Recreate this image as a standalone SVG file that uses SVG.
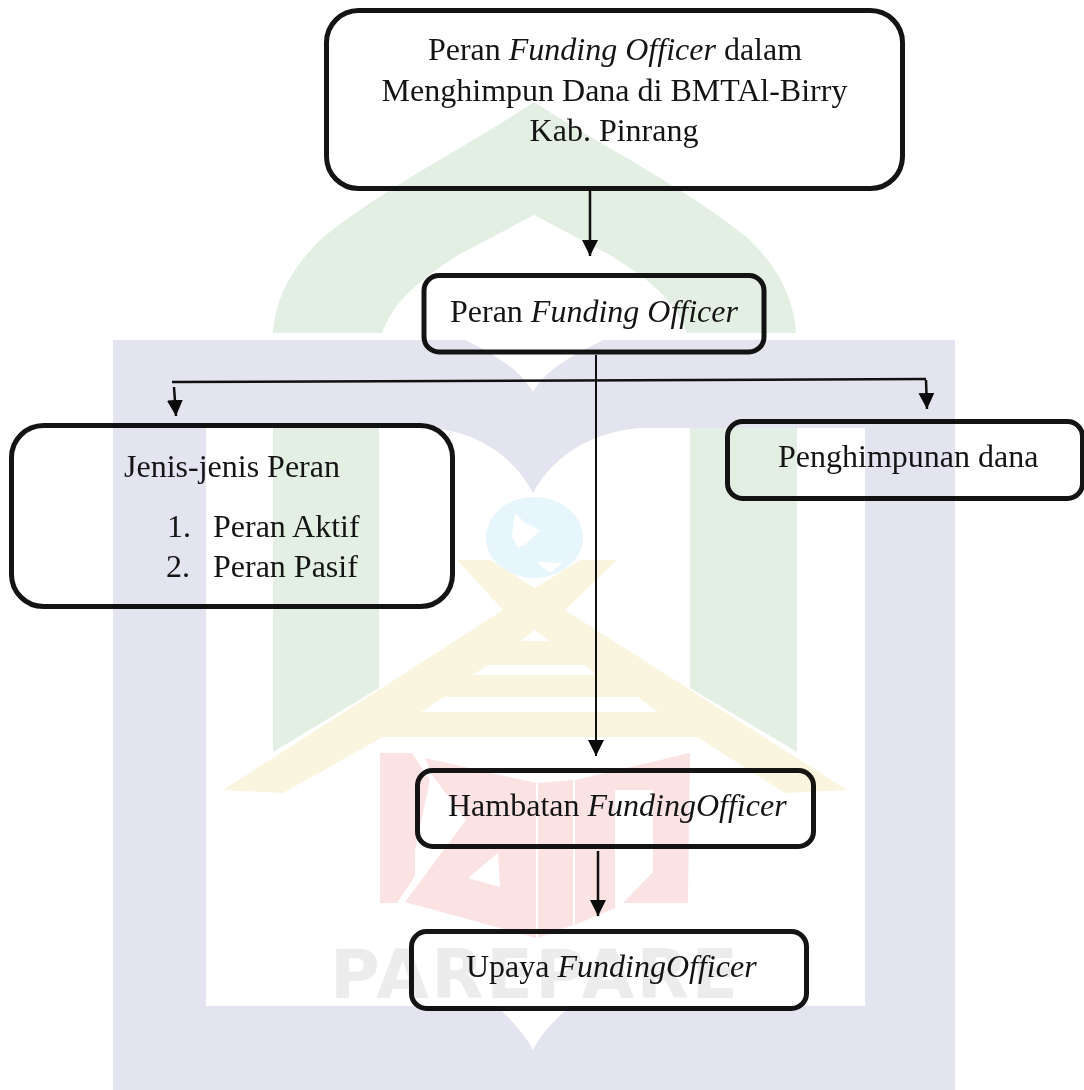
<svg xmlns="http://www.w3.org/2000/svg" width="1084" height="1090" viewBox="0 0 1084 1090">
<style>
.box{fill:none;stroke:#141414;stroke-width:5;mix-blend-mode:multiply}
.line{fill:none;stroke:#111;stroke-width:2.5;mix-blend-mode:multiply}
text{font-family:"Liberation Serif","Times New Roman",serif;font-size:32px;fill:#141414}
.c{text-anchor:middle}
.i{font-style:italic}
.wm{font-family:"DejaVu Sans",Verdana,sans-serif;font-weight:700;font-size:68px;fill:#ececec}
</style>
<defs>
<marker id="arrow" markerUnits="userSpaceOnUse" markerWidth="16" markerHeight="16" refX="16" refY="8" orient="auto"><path d="M0 0L16 8L0 16Z" fill="#0c0c0c"/></marker>
</defs>
<rect width="1084" height="1090" fill="#fff"/>
<g id="watermark">
<rect x="113" y="340" width="842" height="750" fill="#e3e4ef"/>
<path fill="#fff" d="M206 428L430 428C470 431 510 450 533 493C556 450 600 431 640 428L865 428L865 1006L570 1006C555 1020 540 1035 533 1050C526 1035 511 1020 497 1006L206 1006Z"/>
<path fill="#fff" d="M466 340C490 353 520 368 533 392C546 368 578 353 603 340Z"/>
<path fill="#e3efe2" d="M273 333C275 300 290 270 320 240C380 190 470 145 534 102C600 145 690 190 750 240C780 270 794 300 796 333L687 333C675 300 650 280 610 255L534 215L458 255C420 280 394 300 382 333Z"/>
<path fill="#e3efe2" d="M273 428H379V688L273 752Z"/>
<path fill="#e3efe2" d="M690 428H797V752L690 688Z"/>
<path fill="#e6f6fc" fill-rule="evenodd" d="M534 497C562 497 583 516 583 538C583 560 560 578 534 578C508 578 486 560 486 538C486 516 506 497 534 497ZM515 513L512 537L518 548L527 543L540 530L525 523ZM537 562L550 573L563 563Z"/>
<path fill="#f9f5df" fill-rule="evenodd" d="M457 560H490L535 588L580 560H617L565 610L847 790L785 793L697 737H383L283 793L223 790L503 610ZM520 641H550L535 630ZM472 675H596L585 665H489ZM421 712H658L638 697H444Z"/>
<g fill="#fbe3e3">
<path d="M380 753H412L430 780L415 850V876L397 903H380Z"/>
<path fill-rule="evenodd" d="M425 758L536 783V938L405 902L466 820L432 775ZM468 878L500 887L498 853Z"/>
<path d="M538 783L573 780V925L538 938Z"/>
<path d="M575 780L690 753L688 903H623L653 872V790H615V908L575 925Z"/>
</g>
<text class="wm" x="330" y="998" textLength="408" lengthAdjust="spacing">PAREPARE</text>
</g>
<g id="connectors">
<path class="line" d="M590 190V256" marker-end="url(#arrow)"/>
<path class="line" style="stroke-width:2" d="M596 355V756" marker-end="url(#arrow)"/>
<path class="line" d="M172 382L926 379"/>
<path class="line" d="M174 387L176 416" marker-end="url(#arrow)"/>
<path class="line" d="M926 380L927 409" marker-end="url(#arrow)"/>
<path class="line" d="M598 851V916" marker-end="url(#arrow)"/>
</g>
<g id="node-judul">
<rect class="box" x="326.5" y="10.5" width="576" height="178" rx="32"/>
<text class="c" x="615" y="60">Peran <tspan class="i">Funding Officer</tspan> dalam</text>
<text class="c" x="614.5" y="100.5">Menghimpun Dana di BMTAl-Birry</text>
<text class="c" x="614" y="140.5">Kab. Pinrang</text>
</g>
<g id="node-peran">
<rect class="box" x="424" y="275.5" width="340" height="76.5" rx="15"/>
<text x="450" y="322">Peran <tspan class="i">Funding Officer</tspan></text>
</g>
<g id="node-jenis">
<rect class="box" x="11.5" y="425.5" width="441" height="181" rx="32"/>
<text x="124" y="477">Jenis-jenis Peran</text>
<text x="167" y="537">1.</text>
<text x="213" y="537">Peran Aktif</text>
<text x="166" y="577">2.</text>
<text x="213" y="577">Peran Pasif</text>
</g>
<g id="node-penghimpunan">
<rect class="box" x="727.5" y="421.5" width="355" height="77" rx="15"/>
<text x="778" y="467">Penghimpunan dana</text>
</g>
<g id="node-hambatan">
<rect class="box" x="417.5" y="770.5" width="396" height="76" rx="15"/>
<text x="448" y="816">Hambatan <tspan class="i">FundingOfficer</tspan></text>
</g>
<g id="node-upaya">
<rect class="box" x="411.5" y="931.5" width="395" height="77" rx="15"/>
<text x="466" y="977">Upaya <tspan class="i">FundingOfficer</tspan></text>
</g>
</svg>
